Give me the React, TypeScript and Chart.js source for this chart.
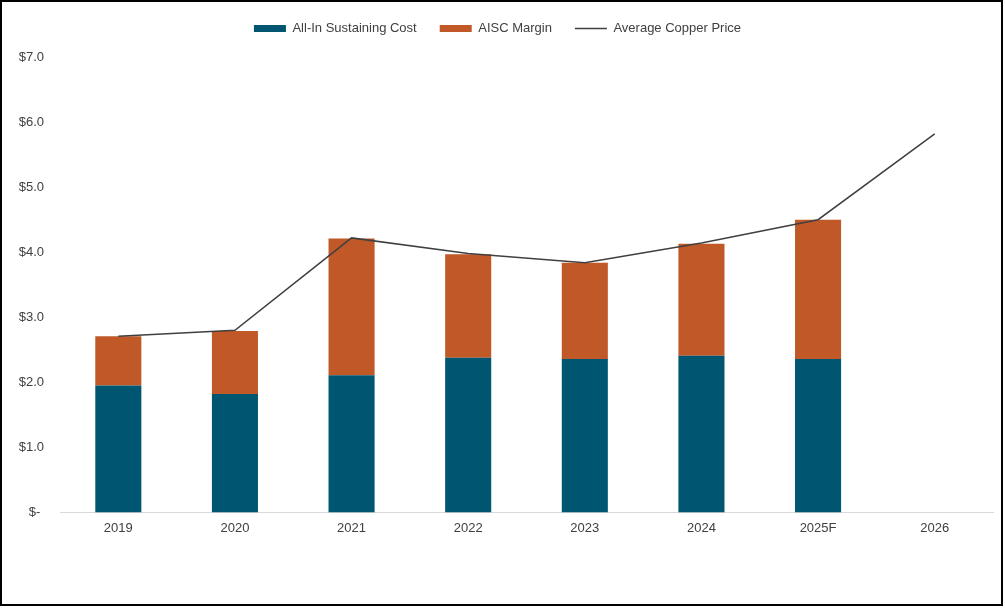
import React, { useEffect, useRef } from 'react';
import { Chart, registerables } from 'chart.js';

Chart.register(...registerables);

const years = ['2019', '2020', '2021', '2022', '2023', '2024', '2025F', '2026'];
const aiscCost = [1.95, 1.82, 2.11, 2.38, 2.36, 2.41, 2.36, null];
const aiscMargin = [0.76, 0.97, 2.10, 1.59, 1.48, 1.72, 2.14, null];
const copperPrice = [2.71, 2.80, 4.22, 3.98, 3.84, 4.14, 4.50, 5.82];

const TEAL = '#005670';
const ORANGE = '#C05828';
const LINE = '#404040';
const TEXT = '#404040';

// adds some room under the legend
const legendGap = {
  id: 'legendGap',
  beforeInit(chart: any) {
    const legend = chart.legend;
    if (!legend) return;
    const origFit = legend.fit;
    legend.fit = function () {
      origFit.call(this);
      this.height += 12;
    };
  },
};

const App: React.FC = () => {
  const canvasRef = useRef<HTMLCanvasElement | null>(null);
  const chartRef = useRef<Chart | null>(null);

  useEffect(() => {
    if (!canvasRef.current) return;
    const ctx = canvasRef.current.getContext('2d');
    if (!ctx) return;

    chartRef.current = new Chart(ctx, {
      type: 'bar',
      data: {
        labels: years,
        datasets: [
          {
            type: 'bar',
            label: 'All-In Sustaining Cost',
            data: aiscCost,
            backgroundColor: TEAL,
            borderWidth: 0,
            pointStyle: 'rect',
            order: 1,
          },
          {
            type: 'bar',
            label: 'AISC Margin',
            data: aiscMargin,
            backgroundColor: ORANGE,
            borderWidth: 0,
            pointStyle: 'rect',
            order: 1,
          },
          {
            type: 'line',
            label: 'Average Copper Price',
            data: copperPrice,
            borderColor: LINE,
            backgroundColor: LINE,
            borderWidth: 1.5,
            pointRadius: 0,
            pointStyle: 'line',
            tension: 0,
            stack: 'price',
            order: 0,
          },
        ] as any,
      },
      options: {
        responsive: true,
        maintainAspectRatio: false,
        animation: false,
        layout: { padding: { top: -3, right: 12, left: 0, bottom: 0 } },
        datasets: {
          bar: { categoryPercentage: 1, barPercentage: 0.395 },
        },
        scales: {
          x: {
            stacked: true,
            grid: { display: false, drawTicks: false },
            border: { display: true, color: '#d9d9d9', width: 1 },
            ticks: {
              color: TEXT,
              padding: 8,
              font: { family: 'Liberation Sans, Arial, sans-serif', size: 13 },
            },
            afterFit: (s: any) => {
              s.height = 91.5;
            },
          },
          y: {
            stacked: true,
            min: 0,
            max: 7,
            grid: { display: false, drawTicks: false },
            border: { display: false },
            ticks: {
              stepSize: 1,
              color: TEXT,
              padding: 16,
              font: { family: 'Liberation Sans, Arial, sans-serif', size: 13 },
              callback: (v: any) => (Number(v) === 0 ? '$- ' : '$' + Number(v).toFixed(1)),
            },
            afterFit: (s: any) => {
              s.width = 58;
            },
          },
        },
        plugins: {
          legend: {
            display: true,
            position: 'top',
            labels: {
              usePointStyle: true,
              pointStyleWidth: 32,
              boxHeight: 7,
              padding: 23,
              color: TEXT,
              font: { family: 'Liberation Sans, Arial, sans-serif', size: 13 },
              sort: (a: any, b: any) => a.datasetIndex - b.datasetIndex,
            },
          },
          tooltip: { enabled: false },
        },
      },
      plugins: [legendGap],
    });

    return () => {
      if (chartRef.current) {
        chartRef.current.destroy();
        chartRef.current = null;
      }
    };
  }, []);

  return (
    <div
      style={{
        position: 'fixed',
        left: 0,
        top: 0,
        width: 1003,
        height: 606,
        border: '2px solid #000',
        boxSizing: 'border-box',
        background: '#fff',
      }}
    >
      <div style={{ position: 'relative', width: 1003, height: 602 }}>
        <canvas ref={canvasRef} />
      </div>
    </div>
  );
};

export default App;
